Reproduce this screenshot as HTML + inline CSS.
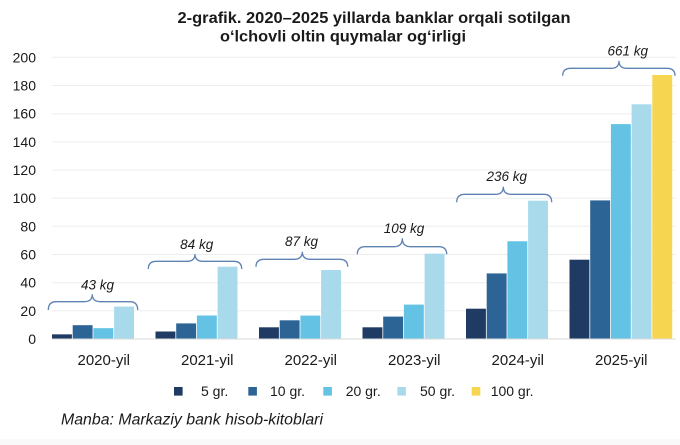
<!DOCTYPE html>
<html>
<head>
<meta charset="utf-8">
<style>
html,body{margin:0;padding:0;background:#fff;}
svg{display:block;}
text{font-family:"Liberation Sans",sans-serif;fill:#1a1a1a;}
</style>
</head>
<body>
<svg width="680" height="445" viewBox="0 0 680 445" xmlns="http://www.w3.org/2000/svg">
<rect x="0" y="0" width="680" height="445" fill="#fff"/>
<rect x="0" y="439" width="680" height="6" fill="#f9f9f9"/>
<!-- Title -->
<text x="177.5" y="23" font-size="16" font-weight="bold" textLength="393" lengthAdjust="spacingAndGlyphs">2-grafik. 2020–2025 yillarda banklar orqali sotilgan</text>
<text x="220" y="41.7" font-size="16" font-weight="bold" textLength="246" lengthAdjust="spacingAndGlyphs">o‘lchovli oltin quymalar og‘irligi</text>

<!-- gridlines -->
<g stroke="#ededed" stroke-width="1">
<line x1="52" y1="57.3" x2="676" y2="57.3"/>
<line x1="52" y1="85.5" x2="676" y2="85.5"/>
<line x1="52" y1="113.7" x2="676" y2="113.7"/>
<line x1="52" y1="141.9" x2="676" y2="141.9"/>
<line x1="52" y1="170" x2="676" y2="170"/>
<line x1="52" y1="198.2" x2="676" y2="198.2"/>
<line x1="52" y1="226.3" x2="676" y2="226.3"/>
<line x1="52" y1="254.5" x2="676" y2="254.5"/>
<line x1="52" y1="282.7" x2="676" y2="282.7"/>
<line x1="52" y1="310.8" x2="676" y2="310.8"/>
</g>

<!-- y labels -->
<g font-size="14" text-anchor="end">
<text x="36" y="62.3">200</text>
<text x="36" y="90.5">180</text>
<text x="36" y="118.7">160</text>
<text x="36" y="146.9">140</text>
<text x="36" y="175">120</text>
<text x="36" y="203.2">100</text>
<text x="36" y="231.3">80</text>
<text x="36" y="259.5">60</text>
<text x="36" y="287.7">40</text>
<text x="36" y="315.8">20</text>
<text x="36" y="344">0</text>
</g>

<!-- bars -->
<g>
<!-- 2020 -->
<rect x="52" y="334.35" width="19.9" height="4.65" fill="#1f3b63"/>
<rect x="72.7" y="325.2" width="19.9" height="13.8" fill="#2d6496"/>
<rect x="93.4" y="328.15" width="19.9" height="10.85" fill="#64c2e4"/>
<rect x="114.1" y="306.6" width="19.9" height="32.4" fill="#a9daec"/>
<!-- 2021 -->
<rect x="155.5" y="331.5" width="19.9" height="7.5" fill="#1f3b63"/>
<rect x="176.2" y="323.4" width="19.9" height="15.6" fill="#2d6496"/>
<rect x="196.9" y="315.5" width="19.9" height="23.5" fill="#64c2e4"/>
<rect x="217.6" y="266.7" width="19.9" height="72.3" fill="#a9daec"/>
<!-- 2022 -->
<rect x="259" y="327.3" width="19.9" height="11.7" fill="#1f3b63"/>
<rect x="279.7" y="320.3" width="19.9" height="18.7" fill="#2d6496"/>
<rect x="300.4" y="315.6" width="19.9" height="23.4" fill="#64c2e4"/>
<rect x="321.1" y="270" width="19.9" height="69" fill="#a9daec"/>
<!-- 2023 -->
<rect x="362.5" y="327.3" width="19.9" height="11.7" fill="#1f3b63"/>
<rect x="383.2" y="316.6" width="19.9" height="22.4" fill="#2d6496"/>
<rect x="403.9" y="304.6" width="19.9" height="34.4" fill="#64c2e4"/>
<rect x="424.6" y="253.6" width="19.9" height="85.4" fill="#a9daec"/>
<!-- 2024 -->
<rect x="466" y="308.7" width="19.9" height="30.3" fill="#1f3b63"/>
<rect x="486.7" y="273.4" width="19.9" height="65.6" fill="#2d6496"/>
<rect x="507.4" y="241.25" width="19.9" height="97.75" fill="#64c2e4"/>
<rect x="528.1" y="200.7" width="19.9" height="138.3" fill="#a9daec"/>
<!-- 2025 -->
<rect x="569.5" y="259.7" width="19.9" height="79.3" fill="#1f3b63"/>
<rect x="590.2" y="200.4" width="19.9" height="138.6" fill="#2d6496"/>
<rect x="610.9" y="124.1" width="19.9" height="214.9" fill="#64c2e4"/>
<rect x="631.6" y="104.3" width="19.9" height="234.7" fill="#a9daec"/>
<rect x="652.3" y="75" width="19.9" height="264" fill="#f6d650"/>
</g>

<!-- baseline -->
<line x1="52" y1="339" x2="676" y2="339" stroke="#d9d9d9" stroke-width="1"/>

<!-- braces -->
<g fill="none" stroke="#5f82b4" stroke-width="1.3">
<path d="M48.3 310 Q48.3 301.7 56.3 301.7 L84.3 301.7 Q92.3 301.7 92.3 294.3 Q92.3 301.7 100.3 301.7 L129.7 301.7 Q137.7 301.7 137.7 310"/>
<path d="M148.3 269 Q148.3 261.3 156.3 261.3 L187 261.3 Q195 261.3 195 254 Q195 261.3 203 261.3 L233.7 261.3 Q241.7 261.3 241.7 269"/>
<path d="M256 266.7 Q256 259.3 264 259.3 L294.3 259.3 Q302.3 259.3 302.3 251.7 Q302.3 259.3 310.3 259.3 L339.7 259.3 Q347.7 259.3 347.7 266.7"/>
<path d="M357.3 254.3 Q357.3 246.7 365.3 246.7 L394.3 246.7 Q402.3 246.7 402.3 238.3 Q402.3 246.7 410.3 246.7 L438.7 246.7 Q446.7 246.7 446.7 254.3"/>
<path d="M456.7 202.3 Q456.7 194.3 464.7 194.3 L495.3 194.3 Q503.3 194.3 503.3 186.7 Q503.3 194.3 511.3 194.3 L543.7 194.3 Q551.7 194.3 551.7 202.3"/>
<path d="M562.7 75.7 Q562.7 68.3 570.7 68.3 L611 68.3 Q619 68.3 619 60.7 Q619 68.3 627 68.3 L667 68.3 Q675 68.3 675 75.7"/>
</g>

<!-- brace labels -->
<g font-size="13.5" font-style="italic" text-anchor="middle">
<text x="97.5" y="289.3">43 kg</text>
<text x="196.7" y="249">84 kg</text>
<text x="301.5" y="246">87 kg</text>
<text x="404" y="233">109 kg</text>
<text x="506.8" y="181">236 kg</text>
<text x="627.8" y="55.5">661 kg</text>
</g>

<!-- x labels -->
<g font-size="15" text-anchor="middle">
<text x="103.75" y="365">2020-yil</text>
<text x="207.25" y="365">2021-yil</text>
<text x="310.75" y="365">2022-yil</text>
<text x="414.25" y="365">2023-yil</text>
<text x="517.75" y="365">2024-yil</text>
<text x="621.25" y="365">2025-yil</text>
</g>

<!-- legend -->
<rect x="174" y="387" width="8.6" height="8.6" fill="#1f3b63"/>
<rect x="248.3" y="387" width="8.6" height="8.6" fill="#2d6496"/>
<rect x="323.3" y="387" width="8.6" height="8.6" fill="#64c2e4"/>
<rect x="397.3" y="387" width="8.6" height="8.6" fill="#a9daec"/>
<rect x="471.7" y="387" width="8.6" height="8.6" fill="#f6d650"/>
<g font-size="14">
<text x="201" y="396">5 gr.</text>
<text x="270" y="396">10 gr.</text>
<text x="345.7" y="396">20 gr.</text>
<text x="420" y="396">50 gr.</text>
<text x="490.7" y="396">100 gr.</text>
</g>

<!-- source -->
<text x="61" y="424.3" font-size="15.5" font-style="italic" textLength="262" lengthAdjust="spacingAndGlyphs">Manba: Markaziy bank hisob-kitoblari</text>
</svg>
</body>
</html>
